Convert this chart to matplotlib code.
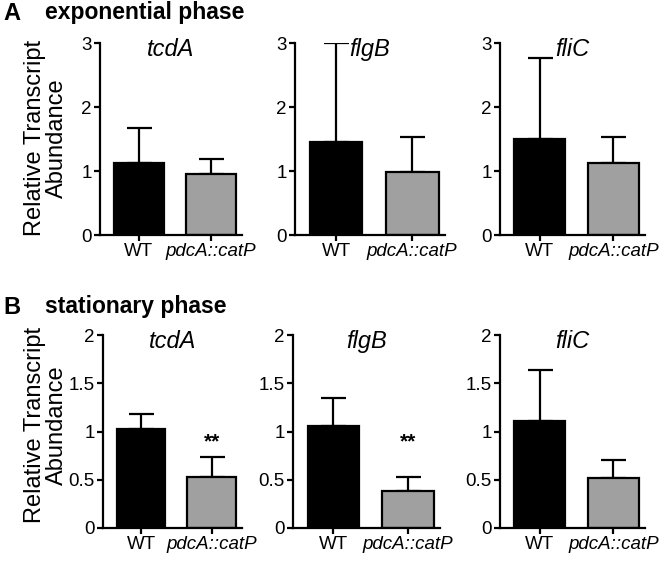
import numpy as np
import matplotlib
matplotlib.use("Agg")
import matplotlib.pyplot as plt

# data
groups = ["WT", "pdcA::catP"]
genes = ["tcdA", "flgB", "fliC"]

exp_mean = [[1.12, 0.95], [1.45, 0.98], [1.50, 1.13]]
exp_err = [[0.55, 0.24], [1.55, 0.55], [1.27, 0.40]]

stat_mean = [[1.03, 0.53], [1.06, 0.38], [1.11, 0.52]]
stat_err = [[0.15, 0.21], [0.29, 0.15], [0.53, 0.18]]
stat_sig = [["", "**"], ["", "**"], ["", ""]]
sig_level = 0.89  # height of the ** marks in panel B

exp_ticks = [0, 1, 2, 3]
stat_ticks = [0, 0.5, 1, 1.5, 2]
stat_ticklabels = ["0", "0.5", "1", "1.5", "2"]

plt.rcParams['font.family'] = ['Liberation Sans', 'DejaVu Sans']

fig = plt.figure(figsize=(6.66, 5.61), dpi=100)
W, H = 666.0, 561.0

colors = ["black", "#a0a0a0"]


def panel(left_px, right_px, top_px, bot_px, means, errs, ymax, ticks, ticklabels, title, sig=None):
    ax = fig.add_axes([left_px / W, 1 - bot_px / H, (right_px - left_px) / W, (bot_px - top_px) / H])
    x = np.arange(len(groups))
    ax.bar(x, means, width=0.69, color=colors, edgecolor="black", linewidth=1.6, zorder=2)
    ax.errorbar(x, means, yerr=[np.zeros(len(means)), errs], fmt="none", ecolor="black",
                elinewidth=1.6, capsize=9, capthick=1.6, zorder=1)
    ax.set_xlim(-0.54, 1.43)
    ax.set_ylim(0, ymax)
    ax.set_yticks(ticks)
    ax.set_yticklabels(ticklabels, fontsize=13.5)
    ax.set_xticks(x)
    ax.set_xticklabels(groups, fontsize=13.5)
    ax.get_xticklabels()[1].set_style("italic")
    for s in ["top", "right"]:
        ax.spines[s].set_visible(False)
    for s in ["left", "bottom"]:
        ax.spines[s].set_linewidth(1.6)
    ax.tick_params(width=1.6, length=4, pad=2)
    ax.text(0.5, 0.965, title, transform=ax.transAxes, ha="center", va="center",
            fontsize=17, style="italic")
    if sig is not None:
        for xi, s in zip(x, sig):
            if s:
                ax.text(xi, sig_level, s, ha="center", va="center",
                        fontsize=15, fontweight="bold")
    return ax


a_lefts = [100, 295, 500]
a_rights = [242, 445, 645]
for i in range(3):
    panel(a_lefts[i], a_rights[i], 43, 235, exp_mean[i], exp_err[i], 3,
          exp_ticks, [str(t) for t in exp_ticks], genes[i])

b_lefts = [103, 293, 500]
b_rights = [242, 440, 645]
for i in range(3):
    panel(b_lefts[i], b_rights[i], 335, 528, stat_mean[i], stat_err[i], 2,
          stat_ticks, stat_ticklabels, genes[i], stat_sig[i])

ylab = "Relative Transcript\nAbundance"
fig.text(46 / W, 1 - 138 / H, ylab, rotation=90, ha="center", va="center", fontsize=17,
         linespacing=0.95)
fig.text(46 / W, 1 - 425 / H, ylab, rotation=90, ha="center", va="center", fontsize=17,
         linespacing=0.95)

fig.text(3 / W, 1 - 13 / H, "A", fontsize=17, fontweight="bold", va="center", ha="left")
fig.text(45 / W, 1 - 13 / H, "exponential phase", fontsize=16.5, fontweight="bold", va="center", ha="left")
fig.text(3 / W, 1 - 307 / H, "B", fontsize=17, fontweight="bold", va="center", ha="left")
fig.text(45 / W, 1 - 307 / H, "stationary phase", fontsize=16.5, fontweight="bold", va="center", ha="left")

fig.savefig("out.png", dpi=100)
